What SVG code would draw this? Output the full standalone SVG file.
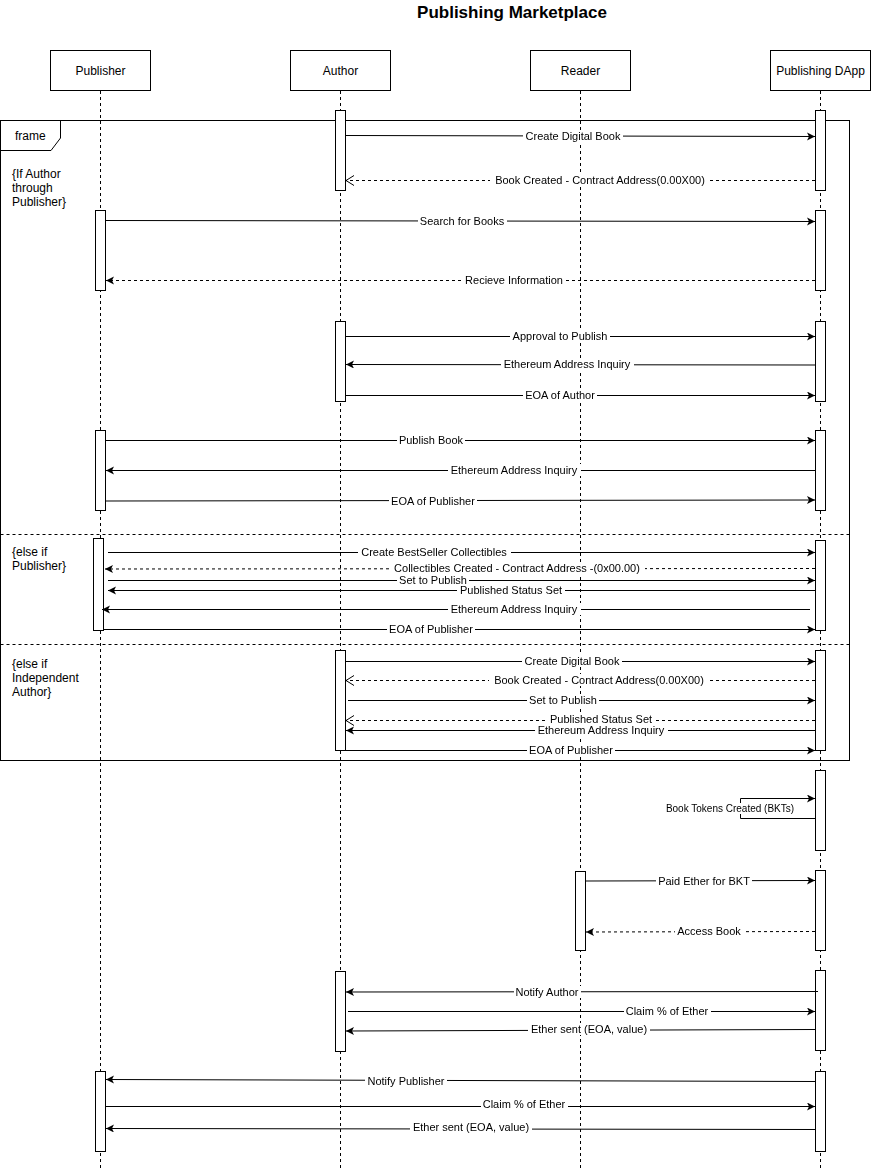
<svg xmlns="http://www.w3.org/2000/svg" width="871" height="1171" viewBox="0 0 871 1171">
<style>
  text { font-family: "Liberation Sans", Arial, sans-serif; fill: #000; }
  .title { font-size: 17px; font-weight: bold; text-anchor: middle; }
  .box { fill: #fff; stroke: #000; stroke-width: 1; }
  .boxlabel { font-size: 12px; text-anchor: middle; }
  .life { stroke: #000; stroke-width: 1; stroke-dasharray: 3 3; fill: none; }
  .act { fill: #fff; stroke: #000; stroke-width: 1; }
  .frame { fill: none; stroke: #000; stroke-width: 1; }
  .sep { stroke: #000; stroke-width: 1; stroke-dasharray: 3 3; }
  .guard { font-size: 12px; }
  .msg { stroke: #000; stroke-width: 1; fill: none; marker-end: url(#solid); }
  .ret { stroke: #000; stroke-width: 1; fill: none; stroke-dasharray: 3 3; }
  .ret.open { marker-end: url(#open); }
  .ret.fill { marker-end: url(#solid); }
  .lbl { font-size: 11px; text-anchor: middle; filter: url(#labelbg); }
</style>
<defs>
  <marker id="solid" markerUnits="userSpaceOnUse" markerWidth="10" markerHeight="10" refX="8" refY="4" orient="auto">
    <path d="M0,0 L8,4 L0,8 L2,4 Z" fill="#000"/>
  </marker>
  <marker id="open" markerUnits="userSpaceOnUse" markerWidth="12" markerHeight="12" refX="8" refY="5" orient="auto">
    <path d="M0,0 L8,5 L0,10" fill="none" stroke="#000" stroke-width="1"/>
  </marker>
  <!-- white box behind each message label -->
  <filter id="labelbg" x="-0.02" y="0" width="1.04" height="1" color-interpolation-filters="sRGB">
    <feFlood flood-color="#fff"/>
    <feComposite in="SourceGraphic" in2="BackgroundImage" operator="over"/>
  </filter>
</defs>

<rect width="871" height="1171" fill="#fff"/>
<text class="title" x="512" y="18">Publishing Marketplace</text>

<!-- participants -->
<g id="publisher">
  <rect class="box" x="50.5" y="50.5" width="100" height="40"/>
  <text class="boxlabel" x="100.5" y="75">Publisher</text>
  <line class="life" x1="100.5" y1="91" x2="100.5" y2="1170"/>
</g>
<g id="author">
  <rect class="box" x="290.5" y="50.5" width="100" height="40"/>
  <text class="boxlabel" x="340.5" y="75">Author</text>
  <line class="life" x1="340.5" y1="91" x2="340.5" y2="1170"/>
</g>
<g id="reader">
  <rect class="box" x="530.5" y="50.5" width="100" height="40"/>
  <text class="boxlabel" x="580.5" y="75">Reader</text>
  <line class="life" x1="580.5" y1="91" x2="580.5" y2="1170"/>
</g>
<g id="dapp">
  <rect class="box" x="770.5" y="50.5" width="100" height="40"/>
  <text class="boxlabel" x="820.5" y="75">Publishing DApp</text>
  <line class="life" x1="820.5" y1="91" x2="820.5" y2="1170"/>
</g>

<!-- combined fragment -->
<g id="frame">
  <rect class="frame" x="0.5" y="120.5" width="849" height="640"/>
  <path class="frame" d="M0.5,150.5 H51 L60.5,138 V120.5"/>
  <text class="guard" x="15" y="140">frame</text>
  <line class="sep" x1="0.5" y1="534.5" x2="849.5" y2="534.5"/>
  <line class="sep" x1="0.5" y1="644.5" x2="849.5" y2="644.5"/>
  <text class="guard" x="12" y="178">{If Author</text>
  <text class="guard" x="12" y="192">through</text>
  <text class="guard" x="12" y="206">Publisher}</text>
  <text class="guard" x="12" y="556">{else if</text>
  <text class="guard" x="12" y="570">Publisher}</text>
  <text class="guard" x="12" y="668">{else if</text>
  <text class="guard" x="12" y="682">Independent</text>
  <text class="guard" x="12" y="696">Author}</text>
</g>

<!-- activation bars -->
<g id="activations">
  <rect class="act" x="335.5" y="110.5" width="10" height="80"/>
  <rect class="act" x="815.5" y="110.5" width="10" height="80"/>
  <rect class="act" x="95.5" y="210.5" width="10" height="80"/>
  <rect class="act" x="815.5" y="210.5" width="10" height="80"/>
  <rect class="act" x="335.5" y="321.5" width="10" height="80"/>
  <rect class="act" x="815.5" y="321.5" width="10" height="80"/>
  <rect class="act" x="95.5" y="430.5" width="10" height="80"/>
  <rect class="act" x="815.5" y="430.5" width="10" height="80"/>
  <rect class="act" x="93.5" y="538.5" width="10" height="92"/>
  <rect class="act" x="815.5" y="540.5" width="10" height="90"/>
  <rect class="act" x="335.5" y="650.5" width="10" height="100"/>
  <rect class="act" x="815.5" y="650.5" width="10" height="100"/>
  <rect class="act" x="815.5" y="770.5" width="10" height="80"/>
  <rect class="act" x="575.5" y="871.5" width="10" height="79"/>
  <rect class="act" x="815.5" y="870.5" width="10" height="80"/>
  <rect class="act" x="335.5" y="971.5" width="10" height="80"/>
  <rect class="act" x="815.5" y="970.5" width="10" height="80"/>
  <rect class="act" x="95.5" y="1071.5" width="10" height="80"/>
  <rect class="act" x="815.5" y="1071.5" width="10" height="80"/>
</g>

<!-- messages -->
<g id="connectors">
  <line class="msg" x1="345.5" y1="135.5" x2="815" y2="136.5"/>
  <line class="ret open" x1="815" y1="180.5" x2="346" y2="180.5"/>
  <line class="msg" x1="105.5" y1="220.5" x2="815" y2="221.5"/>
  <line class="ret fill" x1="815" y1="280.5" x2="106" y2="280.5"/>
  <line class="msg" x1="345.5" y1="336.5" x2="815" y2="336.5"/>
  <line class="msg" x1="815" y1="365" x2="346" y2="364.5"/>
  <line class="msg" x1="345.5" y1="395.5" x2="815" y2="395.5"/>
  <line class="msg" x1="105.5" y1="440.5" x2="815" y2="440.5"/>
  <line class="msg" x1="815" y1="470.5" x2="106" y2="470.5"/>
  <line class="msg" x1="105.5" y1="501" x2="815" y2="500"/>
  <line class="msg" x1="108" y1="552.5" x2="815" y2="552.5"/>
  <line class="ret fill" x1="815" y1="568.5" x2="105" y2="569"/>
  <line class="msg" x1="108" y1="580.5" x2="815" y2="580.5"/>
  <line class="msg" x1="815" y1="590.5" x2="108" y2="590.5"/>
  <line class="msg" x1="810" y1="609.5" x2="102" y2="609.5"/>
  <line class="msg" x1="103.5" y1="629.5" x2="815" y2="629.5"/>
  <line class="msg" x1="345.5" y1="661.5" x2="815" y2="661.5"/>
  <line class="ret open" x1="815" y1="680.5" x2="346" y2="680.5"/>
  <line class="msg" x1="348" y1="700.5" x2="815" y2="700.5"/>
  <line class="ret open" x1="815" y1="720.5" x2="346" y2="720.5"/>
  <line class="msg" x1="815" y1="730.5" x2="346" y2="730.5"/>
  <line class="msg" x1="345.5" y1="750.5" x2="815" y2="750.5"/>
  <path class="msg" d="M815,818.5 H740.5 V798.5 H815"/>
  <line class="msg" x1="585.5" y1="881" x2="815" y2="880.5"/>
  <line class="ret fill" x1="815" y1="931.5" x2="586" y2="932"/>
  <line class="msg" x1="818" y1="991.5" x2="346" y2="992"/>
  <line class="msg" x1="348" y1="1011.5" x2="815" y2="1011.5"/>
  <line class="msg" x1="815" y1="1029.5" x2="346" y2="1031"/>
  <line class="msg" x1="815" y1="1081.5" x2="106" y2="1079.5"/>
  <line class="msg" x1="105.5" y1="1106.5" x2="815" y2="1106.5"/>
  <line class="msg" x1="815" y1="1129.5" x2="106" y2="1128.5"/>
</g>

<!-- message labels -->
<g id="labels">
  <text class="lbl" x="573" y="140">Create Digital Book</text>
  <text class="lbl" x="600" y="184">Book Created - Contract Address(0.00X00)</text>
  <text class="lbl" x="462" y="225">Search for Books</text>
  <text class="lbl" x="514" y="284">Recieve Information</text>
  <text class="lbl" x="560" y="340">Approval to Publish</text>
  <text class="lbl" x="567" y="368">Ethereum Address Inquiry</text>
  <text class="lbl" x="560" y="399">EOA of Author</text>
  <text class="lbl" x="431" y="444">Publish Book</text>
  <text class="lbl" x="514" y="474">Ethereum Address Inquiry</text>
  <text class="lbl" x="433" y="505">EOA of Publisher</text>
  <text class="lbl" x="434" y="556">Create BestSeller Collectibles</text>
  <text class="lbl" x="517" y="572">Collectibles Created - Contract Address -(0x00.00)</text>
  <text class="lbl" x="433" y="584">Set to Publish</text>
  <text class="lbl" x="511" y="594">Published Status Set</text>
  <text class="lbl" x="514" y="613">Ethereum Address Inquiry</text>
  <text class="lbl" x="431" y="633">EOA of Publisher</text>
  <text class="lbl" x="572" y="665">Create Digital Book</text>
  <text class="lbl" x="599" y="684">Book Created - Contract Address(0.00X00)</text>
  <text class="lbl" x="563" y="704">Set to Publish</text>
  <text class="lbl" x="601" y="723">Published Status Set</text>
  <text class="lbl" x="601" y="734">Ethereum Address Inquiry</text>
  <text class="lbl" x="571" y="754">EOA of Publisher</text>
  <text class="lbl" x="730" y="812" style="font-size:10px">Book Tokens Created (BKTs)</text>
  <text class="lbl" x="704" y="885">Paid Ether for BKT</text>
  <text class="lbl" x="709" y="935">Access Book</text>
  <text class="lbl" x="547" y="996">Notify Author</text>
  <text class="lbl" x="667" y="1015">Claim % of Ether</text>
  <text class="lbl" x="589" y="1033">Ether sent (EOA, value)</text>
  <text class="lbl" x="406" y="1085">Notify Publisher</text>
  <text class="lbl" x="524" y="1108">Claim % of Ether</text>
  <text class="lbl" x="471" y="1131">Ether sent (EOA, value)</text>
</g>
</svg>
